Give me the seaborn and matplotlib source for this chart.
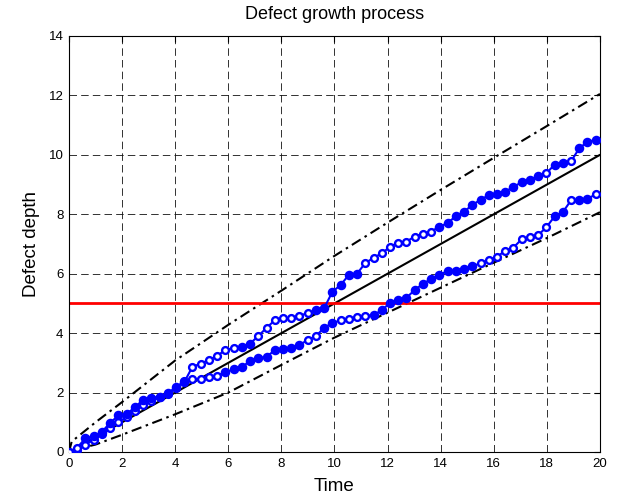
import matplotlib
matplotlib.use('Agg')
import matplotlib.pyplot as plt
import seaborn as sns

# ---------------- data ----------------
time = [0, 0.31, 0.62, 0.93, 1.24, 1.55, 1.86, 2.17, 2.48, 2.79, 3.1, 3.41, 3.72,
        4.03, 4.34, 4.65, 4.96, 5.27, 5.58, 5.89, 6.2, 6.51, 6.82, 7.13, 7.44,
        7.75, 8.06, 8.37, 8.68, 8.99, 9.3, 9.61, 9.92, 10.23, 10.54, 10.85,
        11.16, 11.47, 11.78, 12.09, 12.4, 12.71, 13.02, 13.33, 13.64, 13.95,
        14.26, 14.57, 14.88, 15.19, 15.5, 15.81, 16.12, 16.43, 16.74, 17.05,
        17.36, 17.67, 17.98, 18.29, 18.6, 18.91, 19.22, 19.53, 19.84]

depth_a = [0.00, 0.15, 0.46, 0.53, 0.68, 0.98, 1.23, 1.28, 1.50, 1.76, 1.82, 1.86,
           1.97, 2.19, 2.35, 2.87, 2.97, 3.10, 3.23, 3.44, 3.49, 3.52, 3.65, 3.90,
           4.18, 4.43, 4.50, 4.51, 4.59, 4.67, 4.77, 4.84, 5.39, 5.62, 5.96, 6.00,
           6.36, 6.53, 6.69, 6.90, 7.05, 7.08, 7.25, 7.34, 7.42, 7.58, 7.70, 7.94,
           8.09, 8.31, 8.49, 8.64, 8.69, 8.76, 8.92, 9.08, 9.17, 9.28, 9.38, 9.67,
           9.71, 9.78, 10.22, 10.44, 10.50]
filled_a = [0, 0, 1, 1, 1, 1, 1, 1, 1, 1, 1, 1, 1, 1, 1,
            0, 0, 0, 0, 0, 0, 1, 1, 0, 0, 0, 0, 0, 0, 0,
            1, 1, 1, 1, 1, 1, 0, 0, 0, 0, 0, 0, 0, 0, 0,
            1, 1, 1, 1, 1, 1, 1, 1, 1, 1, 1, 1, 1, 0, 1, 1, 0, 1, 1, 1]

depth_b = [0.00, 0.07, 0.24, 0.42, 0.60, 0.80, 1.00, 1.18, 1.38, 1.58, 1.72, 1.84,
           1.95, 2.15, 2.40, 2.45, 2.47, 2.51, 2.56, 2.69, 2.78, 2.85, 3.07, 3.15,
           3.21, 3.42, 3.48, 3.50, 3.60, 3.77, 3.90, 4.18, 4.34, 4.43, 4.48, 4.53,
           4.58, 4.61, 4.77, 5.02, 5.12, 5.19, 5.45, 5.66, 5.82, 5.97, 6.08, 6.09,
           6.15, 6.25, 6.35, 6.46, 6.57, 6.77, 6.88, 7.16, 7.22, 7.30, 7.56, 7.93,
           8.07, 8.47, 8.48, 8.51, 8.68]
filled_b = [0, 0, 0, 0, 0, 0, 0, 0, 0, 0, 0, 0, 0, 0, 0, 0, 0, 0, 0,
            1, 1, 1, 1, 1, 1, 1, 1, 1, 1, 0, 0, 1, 1, 0, 0, 0, 0,
            1, 1, 1, 1, 1, 1, 1, 1, 1, 1, 1, 1, 1,
            0, 0, 0, 0, 0, 0, 0, 0, 0, 1, 1, 0, 1, 1, 0]

mean_t = [0, 20]
mean_depth = [0, 10]

bound_t = [0, 0.1, 1, 2, 4, 6, 8, 10, 12, 14, 16, 18, 20]
upper_bound = [0, 0.35, 1.0, 1.68, 3.08, 4.28, 5.43, 6.6, 7.72, 8.82, 9.9, 10.97, 12.05]
lower_bound = [0, 0.05, 0.25, 0.58, 1.27, 2.0, 2.93, 3.85, 4.69, 5.53, 6.37, 7.2, 8.07]

threshold_t = [0, 20]
threshold = [5, 5]

x_ticks = [0, 2, 4, 6, 8, 10, 12, 14, 16, 18, 20]
y_ticks = [0, 2, 4, 6, 8, 10, 12, 14]

# ---------------- style ----------------
sns.set_theme(style='white')
plt.rcParams['font.family'] = ['Liberation Sans', 'DejaVu Sans']

fig, ax = plt.subplots(figsize=(6.24, 5.04), dpi=100)
fig.subplots_adjust(left=0.1106, right=0.9615, bottom=0.1032, top=0.9286)

ax.set_axisbelow(True)
ax.grid(True, linestyle=(0, (9, 5)), color='#111111', linewidth=0.6)

sns.lineplot(x=bound_t, y=upper_bound, color='black', linewidth=1.5,
             linestyle=(0, (5, 2.2, 1.2, 2.2)),
             estimator=None, sort=False, ax=ax)
sns.lineplot(x=bound_t, y=lower_bound, color='black', linewidth=1.5,
             linestyle=(0, (5, 2.2, 1.2, 2.2)),
             estimator=None, sort=False, ax=ax)
sns.lineplot(x=mean_t, y=mean_depth, color='black', linewidth=1.5,
             estimator=None, sort=False, ax=ax)
sns.lineplot(x=threshold_t, y=threshold, color='red', linewidth=2,
             estimator=None, sort=False, ax=ax)

for depth, filled in ((depth_b, filled_b), (depth_a, filled_a)):
    sns.lineplot(x=time, y=depth, color='blue', linewidth=1.5,
                 estimator=None, sort=False, ax=ax, zorder=4)
    tf = [t for t, f in zip(time, filled) if f]
    df = [d for d, f in zip(depth, filled) if f]
    to = [t for t, f in zip(time, filled) if not f]
    do = [d for d, f in zip(depth, filled) if not f]
    sns.scatterplot(x=tf, y=df, color='blue', edgecolor='blue', linewidth=1.2,
                    s=32, marker='o', ax=ax, zorder=5)
    sns.scatterplot(x=to, y=do, color='white', edgecolor='blue', linewidth=1.7,
                    s=24, marker='o', ax=ax, zorder=5)

ax.set_xlim(0, 20)
ax.set_ylim(0, 14)
ax.set_xticks(x_ticks)
ax.set_yticks(y_ticks)
ax.tick_params(direction='in', top=True, right=True, labelsize=9.5, length=4,
               width=0.8, colors='black', pad=4)
for sp in ax.spines.values():
    sp.set_color('black')
    sp.set_linewidth(0.8)

ax.set_title('Defect growth process', fontsize=13, pad=12, color='black')
ax.set_xlabel('Time', fontsize=13.5, labelpad=6, color='black')
ax.set_ylabel('Defect depth', fontsize=13.5, labelpad=6, color='black')

fig.savefig('out.png', dpi=100)
